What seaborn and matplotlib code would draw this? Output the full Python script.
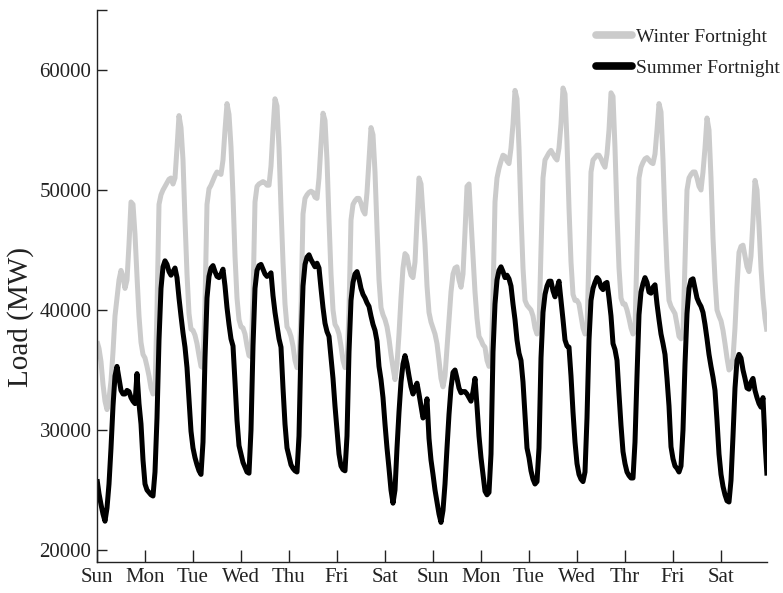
import numpy as np
import pandas as pd
import matplotlib
matplotlib.use("Agg")
import matplotlib.pyplot as plt
from matplotlib.lines import Line2D
import seaborn as sns

# ---------------- data (hourly load, MW) ----------------
day_labels = ["Sun", "Mon", "Tue", "Wed", "Thu", "Fri", "Sat",
              "Sun", "Mon", "Tue", "Wed", "Thr", "Fri", "Sat"]

winter_sun1 = [37400, 36800, 35700, 33800, 32400, 31700, 32600, 34100, 36500, 39500, 41000, 42500,
               43300, 42800, 41800, 42500, 45500, 49000, 48800, 46300, 42800, 39500, 37300, 36300]
winter_mon1 = [36000, 35300, 34500, 33500, 33000, 33300, 40000, 48800, 49600, 50000, 50300, 50600,
               50900, 51000, 50500, 51000, 53500, 56200, 55200, 52500, 47500, 43000, 39700, 38400]
winter_tue1 = [38300, 37900, 37200, 36200, 35300, 35200, 40500, 48800, 50100, 50400, 50800, 51200,
               51500, 51400, 51300, 52500, 55000, 57200, 56300, 53600, 49500, 44500, 41000, 39200]
winter_wed1 = [38600, 38500, 38000, 37000, 36200, 36100, 41000, 49000, 50300, 50500, 50600, 50700,
               50600, 50400, 50400, 52000, 55000, 57600, 57000, 53500, 48500, 44000, 40500, 38600]
winter_thu1 = [38300, 37800, 37000, 35800, 35200, 35200, 40000, 48000, 49300, 49600, 49800, 49900,
               49800, 49400, 49300, 51000, 53800, 56400, 55800, 52500, 47500, 43000, 40000, 38800]
winter_fri1 = [38500, 38000, 37000, 35800, 35200, 35300, 40000, 47500, 48800, 49100, 49300, 49300,
               48900, 48300, 48000, 49800, 52500, 55200, 54600, 51500, 46800, 42500, 40200, 39600]
winter_sat1 = [39200, 38600, 37600, 36300, 35200, 34200, 35500, 38000, 41000, 43500, 44700, 44500,
               43600, 42900, 42700, 44000, 47500, 51000, 50500, 48000, 45500, 42000, 39800, 39000]
winter_sun2 = [38500, 38000, 37200, 35800, 34300, 33600, 34500, 36800, 39000, 41500, 43000, 43500,
               43600, 42500, 41900, 43000, 46500, 50300, 50500, 47500, 44500, 41500, 39300, 37800]
winter_mon2 = [37500, 37100, 36900, 35800, 35300, 35600, 41000, 49000, 51000, 51800, 52400, 52900,
               52800, 52400, 52200, 53500, 55500, 58300, 57600, 53500, 48000, 43500, 40800, 40400]
winter_tue2 = [40200, 40000, 39500, 38500, 38000, 38500, 45000, 51000, 52500, 52800, 53100, 53300,
               53000, 52700, 52500, 53500, 55500, 58500, 58000, 54000, 48500, 44000, 41300, 40800]
winter_wed2 = [40800, 40500, 39500, 38500, 38000, 38200, 45000, 51500, 52500, 52700, 52900, 52900,
               52600, 52200, 51900, 53000, 55000, 58100, 57800, 53500, 48000, 43500, 41000, 40500]
winter_thr2 = [40500, 40000, 39300, 38500, 38000, 38300, 45000, 51000, 51900, 52300, 52600, 52700,
               52500, 52300, 52200, 53000, 55000, 57200, 56500, 52500, 47500, 43500, 40800, 40300]
winter_fri2 = [40000, 39700, 38800, 37800, 37600, 38000, 44000, 50000, 51000, 51300, 51500, 51500,
               51000, 50300, 50000, 51500, 53500, 56000, 55000, 51000, 46000, 42500, 40000, 39500]
winter_sat2 = [39100, 38300, 37200, 36000, 35000, 35200, 36000, 38500, 42000, 44800, 45300, 45400,
               44500, 43600, 43200, 44500, 47500, 50800, 50000, 47000, 43500, 41000, 39300, 38200]

summer_sun1 = [25900, 24700, 23800, 23000, 22400, 23500, 25500, 28500, 32000, 34500, 35300, 34300,
               33300, 33000, 33000, 33300, 33200, 32700, 32400, 32200, 34700, 32200, 30500, 27500]
summer_mon1 = [25500, 25000, 24800, 24600, 24500, 26500, 31000, 37500, 41800, 43600, 44100, 43800,
               43200, 42900, 43200, 43500, 42700, 41000, 39500, 38100, 36900, 35200, 32500, 29900]
summer_tue1 = [28500, 27700, 27100, 26600, 26300, 29000, 36000, 41000, 42800, 43500, 43700, 43200,
               42800, 42700, 43000, 43400, 42000, 40200, 38800, 37600, 37000, 34000, 30800, 28700]
summer_wed1 = [28000, 27300, 26900, 26500, 26400, 30000, 37000, 41800, 43300, 43700, 43800, 43400,
               43000, 42800, 42900, 43100, 41200, 39800, 38700, 37600, 36900, 33500, 30500, 28500]
summer_thu1 = [27800, 27100, 26800, 26600, 26500, 29500, 37000, 42000, 43800, 44400, 44600, 44200,
               43900, 43600, 43900, 43500, 41800, 40200, 38900, 38200, 37800, 36000, 34300, 32000]
summer_fri1 = [30000, 28000, 27000, 26700, 26600, 29500, 36500, 40800, 42300, 43000, 43200, 42600,
               41800, 41300, 41000, 40600, 40300, 39500, 38800, 38300, 37400, 35300, 34200, 32700]
summer_sat1 = [30500, 28500, 26800, 25000, 23900, 25000, 28500, 31500, 34000, 35500, 36200, 35500,
               34500, 33600, 33000, 33500, 33900, 33000, 32000, 31000, 31400, 32600, 29300, 27500]
summer_sun2 = [26300, 25000, 24000, 23000, 22300, 23300, 25500, 28500, 31300, 33500, 34800, 35000,
               34300, 33500, 33100, 33200, 33200, 33000, 32700, 32400, 33200, 34300, 32000, 29500]
summer_mon2 = [27700, 26300, 24900, 24600, 24800, 28000, 36500, 40500, 42500, 43300, 43600, 43200,
               42700, 42900, 42600, 42000, 40500, 39200, 37500, 36400, 35800, 34000, 31300, 28500]
summer_tue2 = [27700, 26600, 25900, 25500, 25700, 28500, 36000, 39800, 41300, 42000, 42400, 42400,
               41600, 41100, 41800, 42400, 40800, 39200, 37500, 37000, 36900, 34500, 31500, 29000]
summer_wed2 = [27200, 26300, 25900, 25700, 26500, 31000, 37500, 40800, 41800, 42300, 42700, 42500,
               41900, 41700, 42200, 42300, 41000, 39500, 37200, 36700, 35800, 33000, 30400, 28200]
summer_thr2 = [27200, 26500, 26200, 26000, 26000, 29000, 34500, 39600, 41500, 42200, 42700, 42300,
               41500, 41400, 41900, 42100, 40500, 39200, 38000, 37200, 36300, 34300, 32000, 28600]
summer_fri2 = [27600, 27000, 26800, 26500, 27000, 30000, 35500, 39700, 41800, 42500, 42600, 41800,
               41000, 40600, 40300, 39800, 38800, 37600, 36300, 35300, 34400, 33300, 30800, 28000]
summer_sat2 = [26300, 25300, 24600, 24100, 24000, 25800, 29500, 33500, 35800, 36300, 36000, 35000,
               34300, 33500, 33400, 34000, 34300, 33300, 32700, 32200, 31900, 32700, 29000, 26200]

winter_days = [winter_sun1, winter_mon1, winter_tue1, winter_wed1, winter_thu1, winter_fri1, winter_sat1,
               winter_sun2, winter_mon2, winter_tue2, winter_wed2, winter_thr2, winter_fri2, winter_sat2]
summer_days = [summer_sun1, summer_mon1, summer_tue1, summer_wed1, summer_thu1, summer_fri1, summer_sat1,
               summer_sun2, summer_mon2, summer_tue2, summer_wed2, summer_thr2, summer_fri2, summer_sat2]

winter = [v for d in winter_days for v in d]
summer = [v for d in summer_days for v in d]
hours = list(range(len(winter)))

series_names = ["Winter Fortnight", "Summer Fortnight"]
series_colors = {"Winter Fortnight": "#cbcbcb", "Summer Fortnight": "#000000"}

df = pd.DataFrame({
    "hour": hours + hours,
    "load": winter + summer,
    "season": [series_names[0]] * len(winter) + [series_names[1]] * len(summer),
})

# ---------------- style ----------------
sns.set_theme(style="white")
plt.rcParams["font.family"] = ["Liberation Serif", "DejaVu Serif"]
plt.rcParams["axes.edgecolor"] = "#222222"

fig = plt.figure(figsize=(7.83, 5.93), dpi=100)
ax = fig.add_axes([97 / 783, 1 - 562 / 593, 670 / 783, 552 / 593])

sns.lineplot(data=df, x="hour", y="load", hue="season", hue_order=series_names,
             palette=series_colors, linewidth=3.6, legend=False, ax=ax,
             solid_joinstyle="round", solid_capstyle="butt")

ax.set_xlim(0, 335)
ax.set_ylim(19000, 65000)
ax.set_xticks(list(range(0, 336, 24)))
ax.set_xticklabels(day_labels, fontsize=15)
yt = [20000, 30000, 40000, 50000, 60000, 65000]
ax.set_yticks(yt)
ax.set_yticklabels([str(v) for v in yt[:-1]] + [""], fontsize=15)
ax.tick_params(axis="x", bottom=True, direction="in", length=9, width=1, pad=4, colors="#222222")
ax.tick_params(axis="y", left=True, direction="in", length=7, width=1, pad=4, colors="#222222")

for s in ["top", "right"]:
    ax.spines[s].set_visible(False)
for s in ["left", "bottom"]:
    ax.spines[s].set_linewidth(1.0)

ax.set_xlabel("")
ax.set_ylabel("Load (MW)", fontsize=21, color="#222222")
ax.yaxis.set_label_coords(-0.094, 0.444)

handles = [Line2D([0], [0], color=series_colors[n], linewidth=5.5) for n in series_names]
leg = fig.legend(handles, series_names, loc="upper left",
                 bbox_to_anchor=(596 / 783, 1 - 28 / 593), bbox_transform=fig.transFigure,
                 frameon=False, fontsize=14, handlelength=1.85, handletextpad=0.2,
                 labelspacing=0.72, borderpad=0, borderaxespad=0)
for t in leg.get_texts():
    t.set_color("#222222")

fig.savefig("out.png", dpi=100)
